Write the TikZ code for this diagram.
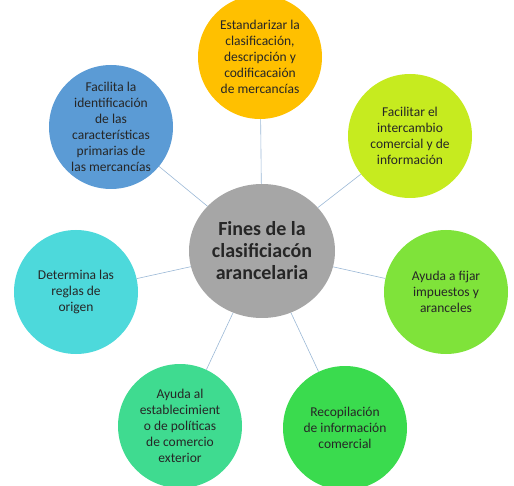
\documentclass[tikz,border=0pt]{standalone}
\usepackage{fontspec}
\usetikzlibrary{shapes.geometric}
\setmainfont{Carlito}
\begin{document}
\begin{tikzpicture}[x=1pt,y=-1pt,
  outer/.style={circle,minimum size=124pt,inner sep=0pt,align=center,font=\fontsize{13.5}{16}\selectfont,text=black!85},
  link/.style={draw=clink,line width=0.6pt}]
\useasboundingbox (0,0) rectangle (514,486);
\definecolor{cgold}{HTML}{FFC000}
\definecolor{cblue}{HTML}{5B9BD5}
\definecolor{clime}{HTML}{C6EB1F}
\definecolor{cgreen}{HTML}{7FE33A}
\definecolor{cgreenb}{HTML}{3ADB4E}
\definecolor{cteal}{HTML}{3FDB90}
\definecolor{ccyan}{HTML}{4DD9DB}
\definecolor{cgray}{HTML}{A6A6A6}
\definecolor{clink}{HTML}{9BB8D6}
\node[ellipse,minimum width=146pt,minimum height=134pt,inner sep=0pt,fill=cgray,align=center,font=\fontsize{20}{22}\selectfont\bfseries,text=black!85] (c) at (262,251) {Fines de la\\clasificiacón\\arancelaria};
\node[outer,fill=cgold] (a) at (260,57) {Estandarizar la\\clasificación,\\descripción y\\codificacaión\\de mercancías};
\node[outer,fill=clime] (b) at (410,136) {Facilitar el\\intercambio\\comercial y de\\información};
\node[outer,fill=cgreen] (d) at (446,292) {Ayuda a fijar\\impuestos y\\aranceles};
\node[outer,fill=cgreenb] (e) at (345,428) {Recopilación\\de información\\comercial};
\node[outer,fill=cteal] (f) at (180,426) {Ayuda al\\establecimient\\o de políticas\\de comercio\\exterior};
\node[outer,fill=ccyan] (g) at (76,292) {Determina las\\reglas de\\origen};
\node[outer,fill=cblue] (h) at (111,127) {Facilita la\\identificación\\de las\\características\\primarias de\\las mercancías};
\foreach \n in {a,b,d,e,f,g,h} \draw[link] (c) -- (\n);
\end{tikzpicture}
\end{document}
